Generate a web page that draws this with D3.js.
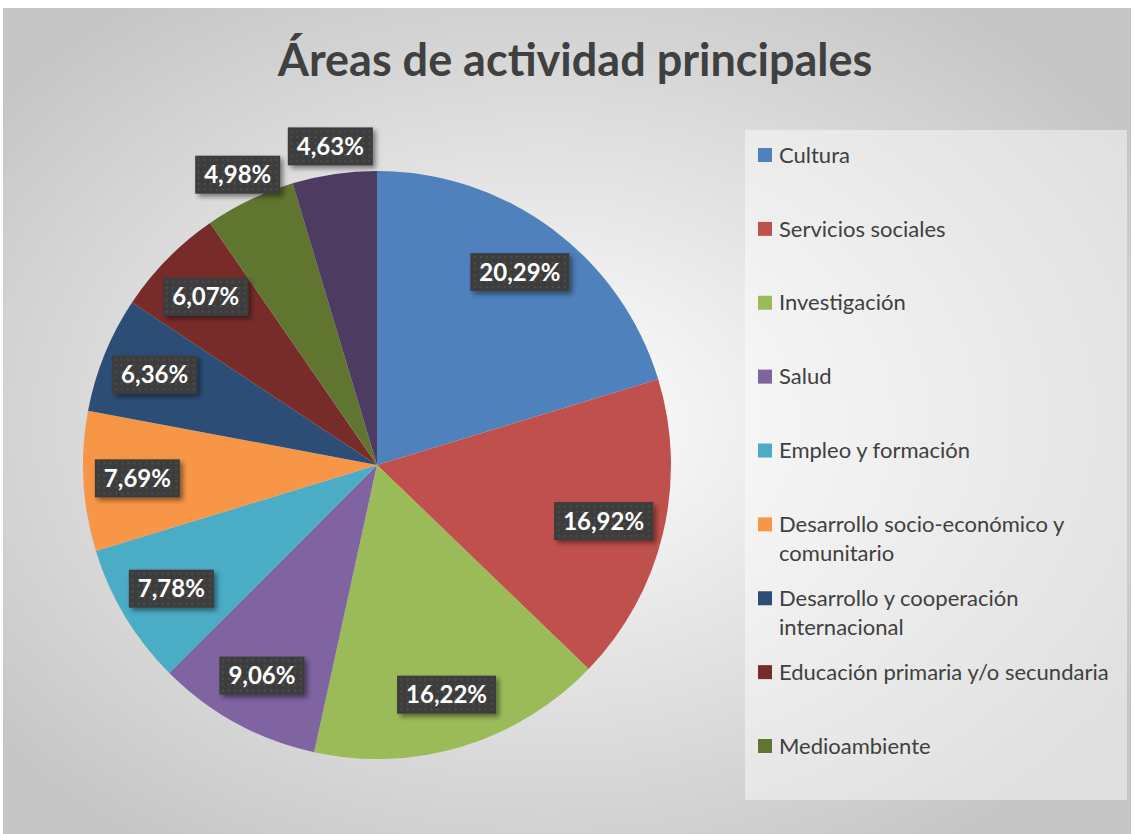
<!DOCTYPE html>
<html>
<head>
<meta charset="utf-8">
<script src="https://cdn.jsdelivr.net/npm/d3@7"></script>
<style>
  body { margin: 0; background: #ffffff; }
  svg { display: block; }
</style>
</head>
<body>
<div id="chart"></div>
<script>
// data
var categories = [
    "Cultura",
    "Servicios sociales",
    "Investigación",
    "Salud",
    "Empleo y formación",
    "Desarrollo socio-económico y comunitario",
    "Desarrollo y cooperación internacional",
    "Educación primaria y/o secundaria",
    "Medioambiente",
    "Otros"
];
var percentages = [20.29, 16.92, 16.22, 9.06, 7.78, 7.69, 6.36, 6.07, 4.98, 4.63];
var colors = ["#4F81BD", "#C0504D", "#9BBB59", "#8064A2", "#4BACC6",
              "#F79646", "#2C4D75", "#772C2A", "#5F7530", "#4D3B62"];
// legend box only has room for the first nine entries
var legendCount = 9;

var svgWidth = 1134;
var svgHeight = 834;

var data = categories.map(function (c, i) {
    return { name: c, value: percentages[i] };
});

var svg = d3.select("#chart")
    .append("svg")
    .attr("width", svgWidth)
    .attr("height", svgHeight);

var defs = svg.append("defs");

// background gradient
var bg = defs.append("radialGradient")
    .attr("id", "bgGrad")
    .attr("cx", "48%")
    .attr("cy", "50%")
    .attr("r", "62%");
bg.append("stop").attr("offset", "0%").attr("stop-color", "#ffffff");
bg.append("stop").attr("offset", "100%").attr("stop-color", "#c6c6c6");

// dotted dark label texture
var pat = defs.append("pattern")
    .attr("id", "labelPat")
    .attr("width", 6)
    .attr("height", 6)
    .attr("patternUnits", "userSpaceOnUse");
pat.append("rect").attr("width", 6).attr("height", 6).attr("fill", "#3d3d3d");
pat.append("circle").attr("cx", 3).attr("cy", 3).attr("r", 0.9).attr("fill", "#555555");

var shadow = defs.append("filter")
    .attr("id", "shadow")
    .attr("x", "-20%").attr("y", "-20%")
    .attr("width", "150%").attr("height", "160%");
shadow.append("feDropShadow")
    .attr("dx", 3).attr("dy", 3)
    .attr("stdDeviation", 2.5)
    .attr("flood-color", "#000")
    .attr("flood-opacity", 0.45);

svg.append("rect")
    .attr("x", 3)
    .attr("y", 8)
    .attr("width", svgWidth - 6)
    .attr("height", svgHeight - 8)
    .attr("fill", "url(#bgGrad)");

// title
svg.append("text")
    .attr("x", 575)
    .attr("y", 76)
    .attr("text-anchor", "middle")
    .attr("font-family", "Lato, 'Open Sans', sans-serif")
    .attr("font-weight", "bold")
    .attr("font-size", "45px")
    .attr("fill", "#404040")
    .text("Áreas de actividad principales");

// pie
var cx = 377, cy = 465, radius = 294;

var pie = d3.pie()
    .sort(null)
    .value(function (d) { return d.value; });

var arc = d3.arc().innerRadius(0).outerRadius(radius);

var arcs = pie(data);

var pieGroup = svg.append("g")
    .attr("transform", `translate(${cx}, ${cy})`);

pieGroup.selectAll("path")
    .data(arcs)
    .enter()
    .append("path")
    .attr("d", arc)
    .attr("fill", function (d, i) { return colors[i]; });

// labels: inside for bigger slices, just outside for the small ones
var insideArc = d3.arc().innerRadius(240).outerRadius(240);
var outsideArc = d3.arc().innerRadius(322).outerRadius(322);

var labels = pieGroup.selectAll("g.lbl")
    .data(arcs)
    .enter()
    .append("g")
    .attr("class", "lbl")
    .attr("transform", function (d) {
        var p = d.data.value < 5 ? outsideArc.centroid(d) : insideArc.centroid(d);
        // keep the box clear of the right rim (Excel's best fit pulls it in)
        var half = 50;
        var maxX = Math.sqrt(Math.max(radius * radius - p[1] * p[1], 0)) - half - 12;
        if (d.data.value >= 5 && p[0] > maxX) p[0] = maxX;
        return `translate(${p[0]}, ${p[1]})`;
    });

labels.append("rect")
    .attr("fill", "url(#labelPat)")
    .attr("filter", "url(#shadow)");

labels.append("text")
    .attr("text-anchor", "middle")
    .attr("dy", "0.36em")
    .attr("font-family", "Lato, 'Open Sans', sans-serif")
    .attr("font-weight", "bold")
    .attr("font-size", "24px")
    .attr("fill", "#ffffff")
    .text(function (d) { return d3.format(".2f")(d.data.value).replace(".", ",") + "%"; });

labels.each(function () {
    var g = d3.select(this);
    var b = g.select("text").node().getBBox();
    g.select("rect")
        .attr("x", b.x - 9)
        .attr("y", -19)
        .attr("width", b.width + 18)
        .attr("height", 38);
});

// legend
svg.append("rect")
    .attr("x", 745)
    .attr("y", 130)
    .attr("width", 382)
    .attr("height", 670)
    .attr("fill", "#ffffff")
    .attr("fill-opacity", 0.45);

var legendY = d3.scaleLinear()
    .domain([0, legendCount - 1])
    .range([155, 746]);

var legend = svg.append("g");

var items = legend.selectAll("g")
    .data(data.slice(0, legendCount))
    .enter()
    .append("g")
    .attr("transform", function (d, i) { return `translate(758, ${legendY(i)})`; });

items.append("rect")
    .attr("x", 0)
    .attr("y", -7)
    .attr("width", 14)
    .attr("height", 14)
    .attr("fill", function (d, i) { return colors[i]; });

items.append("text")
    .attr("x", 21)
    .attr("y", 0)
    .attr("font-family", "Lato, 'Open Sans', sans-serif")
    .attr("font-size", "22px")
    .attr("fill", "#404040")
    .each(function (d) {
        // simple word wrap inside the legend box
        var t = d3.select(this);
        var words = d.name.split(" ");
        var line = [];
        var tspan = t.append("tspan").attr("x", 21).attr("dy", "0.35em");
        words.forEach(function (w) {
            line.push(w);
            tspan.text(line.join(" "));
            if (tspan.node().getComputedTextLength() > 340 && line.length > 1) {
                line.pop();
                tspan.text(line.join(" "));
                line = [w];
                tspan = t.append("tspan").attr("x", 21).attr("dy", "1.3em").text(w);
            }
        });
    });
</script>
</body>
</html>
